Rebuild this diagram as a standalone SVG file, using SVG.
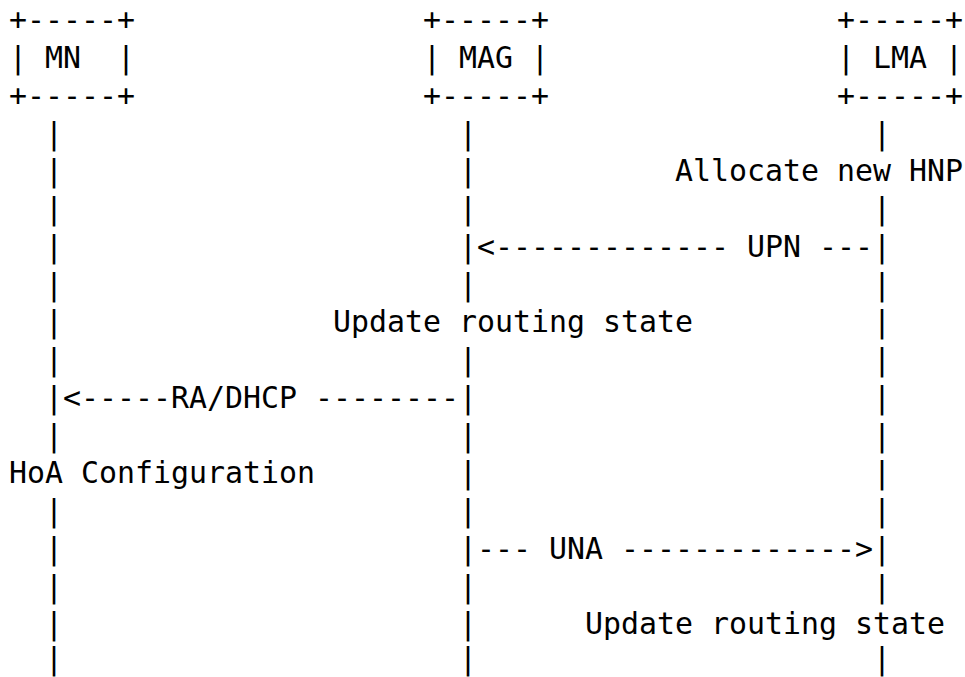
<svg xmlns="http://www.w3.org/2000/svg" width="965" height="677" viewBox="0 0 965 677">
<style>
text { font-family: "DejaVu Sans Mono", "Liberation Mono", monospace; font-size: 29.9px; fill: #000; white-space: pre; }
</style>
<rect x="0" y="0" width="965" height="677" fill="#fff"/>
<g id="node-MN">
<text x="9" y="30.25" xml:space="preserve">+-----+</text>
<text x="9" y="68" xml:space="preserve">| MN  |</text>
<text x="9" y="105.75" xml:space="preserve">+-----+</text>
</g>
<g id="node-MAG">
<text x="423" y="30.25" xml:space="preserve">+-----+</text>
<text x="423" y="68" xml:space="preserve">| MAG |</text>
<text x="423" y="105.75" xml:space="preserve">+-----+</text>
</g>
<g id="node-LMA">
<text x="837" y="30.25" xml:space="preserve">+-----+</text>
<text x="837" y="68" xml:space="preserve">| LMA |</text>
<text x="837" y="105.75" xml:space="preserve">+-----+</text>
</g>
<g id="connectors">
<text x="45" y="143.5">|</text><text x="459" y="143.5">|</text><text x="873" y="143.5">|</text>
<text x="45" y="181.25">|</text><text x="459" y="181.25">|</text>
<text x="45" y="219">|</text><text x="459" y="219">|</text><text x="873" y="219">|</text>
<text x="45" y="256.75">|</text>
<text x="459" y="256.75" xml:space="preserve">|&lt;------------- UPN ---|</text>
<text x="45" y="294.5">|</text><text x="459" y="294.5">|</text><text x="873" y="294.5">|</text>
<text x="45" y="332.25">|</text><text x="873" y="332.25">|</text>
<text x="45" y="370">|</text><text x="459" y="370">|</text><text x="873" y="370">|</text>
<text x="45" y="407.75" xml:space="preserve">|&lt;-----RA/DHCP --------|</text>
<text x="873" y="407.75">|</text>
<text x="45" y="445.5">|</text><text x="459" y="445.5">|</text><text x="873" y="445.5">|</text>
<text x="459" y="483.25">|</text><text x="873" y="483.25">|</text>
<text x="45" y="521">|</text><text x="459" y="521">|</text><text x="873" y="521">|</text>
<text x="45" y="558.75">|</text>
<text x="459" y="558.75" xml:space="preserve">|--- UNA -------------&gt;|</text>
<text x="45" y="596.5">|</text><text x="459" y="596.5">|</text><text x="873" y="596.5">|</text>
<text x="45" y="634.25">|</text><text x="459" y="634.25">|</text>
<text x="45" y="668.5">|</text><text x="459" y="668.5">|</text><text x="873" y="668.5">|</text>
</g>
<g id="labels">
<text x="675" y="181.25" xml:space="preserve">Allocate new HNP</text>
<text x="333" y="332.25" xml:space="preserve">Update routing state</text>
<text x="9" y="483.25" xml:space="preserve">HoA Configuration</text>
<text x="585" y="634.25" xml:space="preserve">Update routing state</text>
</g>
</svg>
